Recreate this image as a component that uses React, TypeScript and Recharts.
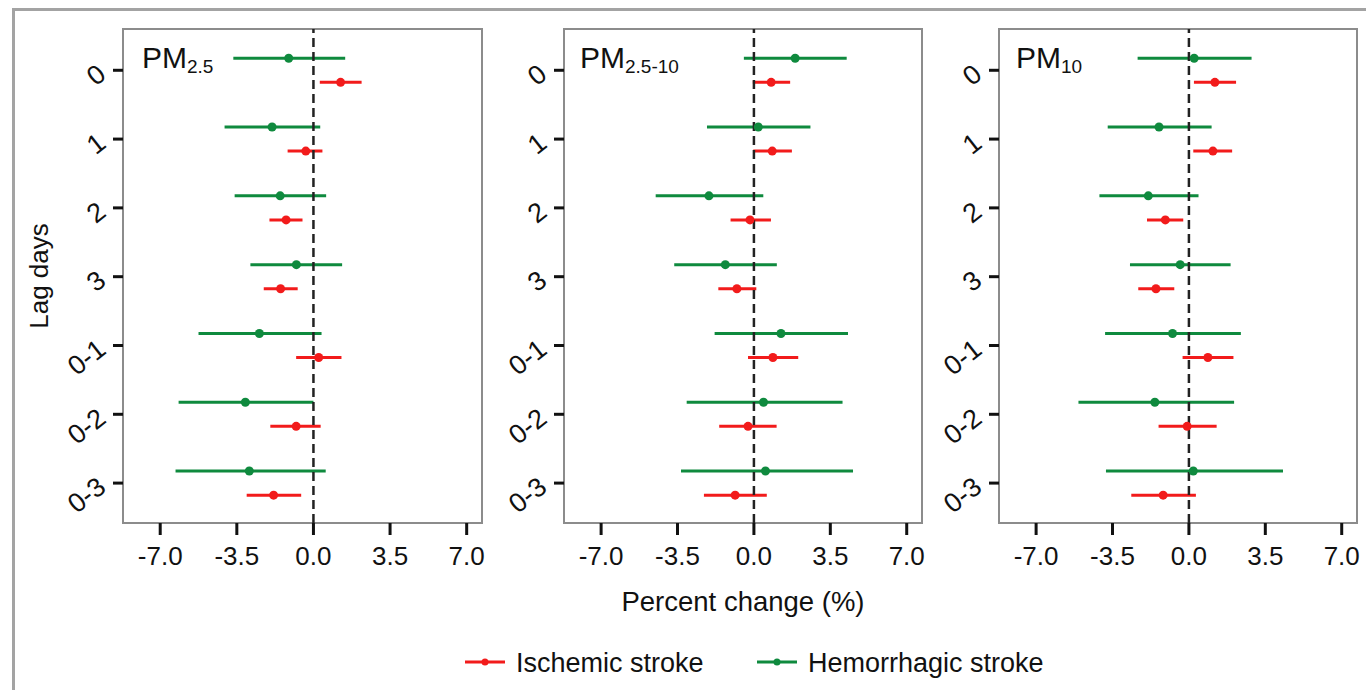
import React from "react";
import {
  ScatterChart,
  Scatter,
  XAxis,
  YAxis,
  ErrorBar,
  ReferenceLine,
  ReferenceArea,
} from "recharts";

const lagLabels = ["0", "1", "2", "3", "0-1", "0-2", "0-3"];
const xTicks = [-7, -3.5, 0, 3.5, 7];

// each row: [estimate, lower CI, upper CI], one row per lag
const pm25Ischemic = [
  [1.24, 0.29, 2.2],
  [-0.35, -1.18, 0.41],
  [-1.25, -2.01, -0.5],
  [-1.5, -2.27, -0.72],
  [0.24, -0.79, 1.28],
  [-0.79, -1.97, 0.33],
  [-1.82, -3.05, -0.56],
];
const pm25Hemorrhagic = [
  [-1.13, -3.66, 1.45],
  [-1.89, -4.06, 0.31],
  [-1.52, -3.6, 0.58],
  [-0.78, -2.88, 1.31],
  [-2.47, -5.25, 0.37],
  [-3.11, -6.16, 0.0],
  [-2.93, -6.3, 0.56],
];
const coarseIschemic = [
  [0.79, -0.05, 1.66],
  [0.84, -0.03, 1.74],
  [-0.18, -1.07, 0.78],
  [-0.78, -1.63, 0.11],
  [0.87, -0.27, 2.03],
  [-0.27, -1.59, 1.04],
  [-0.86, -2.29, 0.59],
];
const coarseHemorrhagic = [
  [1.89, -0.46, 4.25],
  [0.2, -2.15, 2.59],
  [-2.06, -4.5, 0.43],
  [-1.31, -3.65, 1.05],
  [1.24, -1.8, 4.31],
  [0.44, -3.08, 4.06],
  [0.53, -3.34, 4.54],
];
const pm10Ischemic = [
  [1.19, 0.23, 2.16],
  [1.1, 0.2, 1.98],
  [-1.08, -1.92, -0.26],
  [-1.51, -2.32, -0.67],
  [0.87, -0.29, 2.04],
  [-0.08, -1.39, 1.27],
  [-1.18, -2.64, 0.32],
];
const pm10Hemorrhagic = [
  [0.24, -2.35, 2.87],
  [-1.37, -3.72, 1.04],
  [-1.86, -4.1, 0.44],
  [-0.4, -2.7, 1.91],
  [-0.75, -3.84, 2.38],
  [-1.56, -5.06, 2.07],
  [0.2, -3.8, 4.31],
];

const RED = "#f21b1b";
const GREEN = "#0f8a3e";
const FONT = "'Liberation Sans', Arial, sans-serif";
const X_DOMAIN = [-8.7, 7.7];
const Y_DOMAIN = [-0.6, 6.58];
const ROW_SHIFT = 0.175; // green sits above the tick, red below

const toPoints = (rows: number[][], shift: number) =>
  rows.map(([est, lo, hi], i) => ({
    x: est,
    y: i + shift,
    err: [est - lo, hi - est],
  }));

const makeDot = (color: string) => (props: any) =>
  <circle cx={props.cx} cy={props.cy} r={4.5} fill={color} />;

const LagTick = (props: any) => {
  const { x, y, payload } = props;
  return (
    <text
      x={x}
      y={y}
      dy={9}
      textAnchor="end"
      fontSize={27}
      fill="#111"
      transform={`rotate(-38 ${x} ${y})`}
    >
      {lagLabels[payload.value]}
    </text>
  );
};

type PanelProps = {
  boxLeft: number;
  boxWidth: number;
  rightMargin: number;
  ischemic: number[][];
  hemorrhagic: number[][];
};

function Panel({ boxLeft, boxWidth, rightMargin, ischemic, hemorrhagic }: PanelProps) {
  const axisW = 100;
  return (
    <div style={{ position: "absolute", left: boxLeft - axisW, top: 0 }}>
      <ScatterChart
        width={axisW + boxWidth + rightMargin}
        height={580}
        margin={{ top: 29, right: rightMargin, bottom: 0, left: 0 }}
      >
        <XAxis
          type="number"
          dataKey="x"
          domain={X_DOMAIN}
          ticks={xTicks}
          interval={0}
          allowDataOverflow
          tickFormatter={(v: number) => v.toFixed(1)}
          axisLine={false}
          tickLine={{ stroke: "#111", strokeWidth: 3 }}
          tickSize={12}
          tickMargin={12}
          height={57}
          tick={{ fill: "#111", fontSize: 26 }}
        />
        <YAxis
          type="number"
          dataKey="y"
          domain={Y_DOMAIN}
          ticks={[0, 1, 2, 3, 4, 5, 6]}
          interval={0}
          reversed
          allowDataOverflow
          width={axisW}
          axisLine={false}
          tickLine={{ stroke: "#111", strokeWidth: 3 }}
          tickSize={10}
          tickMargin={11}
          tick={<LagTick />}
        />
        <ReferenceArea
          x1={X_DOMAIN[0]}
          x2={X_DOMAIN[1]}
          y1={Y_DOMAIN[0]}
          y2={Y_DOMAIN[1]}
          fill="none"
          fillOpacity={0}
          stroke="#8c8c8c"
          strokeWidth={2}
          ifOverflow="visible"
        />
        <Scatter
          data={toPoints(hemorrhagic, -ROW_SHIFT)}
          shape={makeDot(GREEN)}
          isAnimationActive={false}
        >
          <ErrorBar dataKey="err" direction="x" width={0} stroke={GREEN} strokeWidth={3} />
        </Scatter>
        <Scatter
          data={toPoints(ischemic, ROW_SHIFT)}
          shape={makeDot(RED)}
          isAnimationActive={false}
        >
          <ErrorBar dataKey="err" direction="x" width={0} stroke={RED} strokeWidth={3} />
        </Scatter>
        <ReferenceLine x={0} stroke="#222" strokeWidth={2.5} strokeDasharray="9 5" />
      </ScatterChart>
    </div>
  );
}

export default function App() {
  return (
    <div
      style={{
        position: "absolute",
        left: 0,
        top: 0,
        width: 1366,
        height: 690,
        overflow: "hidden",
        background: "#fff",
        fontFamily: FONT,
      }}
    >
      <div
        style={{
          position: "absolute",
          left: 12,
          top: 8,
          width: 1400,
          height: 720,
          borderLeft: "3px solid #a3a3a3",
          borderTop: "3px solid #a3a3a3",
        }}
      />
      <Panel boxLeft={123} boxWidth={359} rightMargin={16} ischemic={pm25Ischemic} hemorrhagic={pm25Hemorrhagic} />
      <Panel boxLeft={564} boxWidth={358} rightMargin={16} ischemic={coarseIschemic} hemorrhagic={coarseHemorrhagic} />
      <Panel boxLeft={999} boxWidth={358} rightMargin={9} ischemic={pm10Ischemic} hemorrhagic={pm10Hemorrhagic} />
      <svg
        width={1366}
        height={690}
        style={{ position: "absolute", left: 0, top: 0, pointerEvents: "none" }}
        fontFamily={FONT}
      >
        <text x={142} y={68} fontSize={30} fill="#111">
          PM<tspan fontSize={19} dy={5}>2.5</tspan>
        </text>
        <text x={580} y={68} fontSize={30} fill="#111">
          PM<tspan fontSize={19} dy={5}>2.5-10</tspan>
        </text>
        <text x={1016} y={68} fontSize={30} fill="#111">
          PM<tspan fontSize={19} dy={5}>10</tspan>
        </text>
        <text x={48} y={276} fontSize={26} fill="#111" textAnchor="middle" transform="rotate(-90 48 276)">
          Lag days
        </text>
        <text x={743} y={611} fontSize={27.5} fill="#111" textAnchor="middle">
          Percent change (%)
        </text>
        <line x1={465} y1={662} x2={505} y2={662} stroke={RED} strokeWidth={3} />
        <circle cx={485} cy={662} r={3.5} fill={RED} />
        <text x={516} y={672} fontSize={27} fill="#111">
          Ischemic stroke
        </text>
        <line x1={757} y1={662} x2={797} y2={662} stroke={GREEN} strokeWidth={3} />
        <circle cx={777} cy={662} r={3.5} fill={GREEN} />
        <text x={808} y={672} fontSize={27} fill="#111">
          Hemorrhagic stroke
        </text>
      </svg>
    </div>
  );
}
